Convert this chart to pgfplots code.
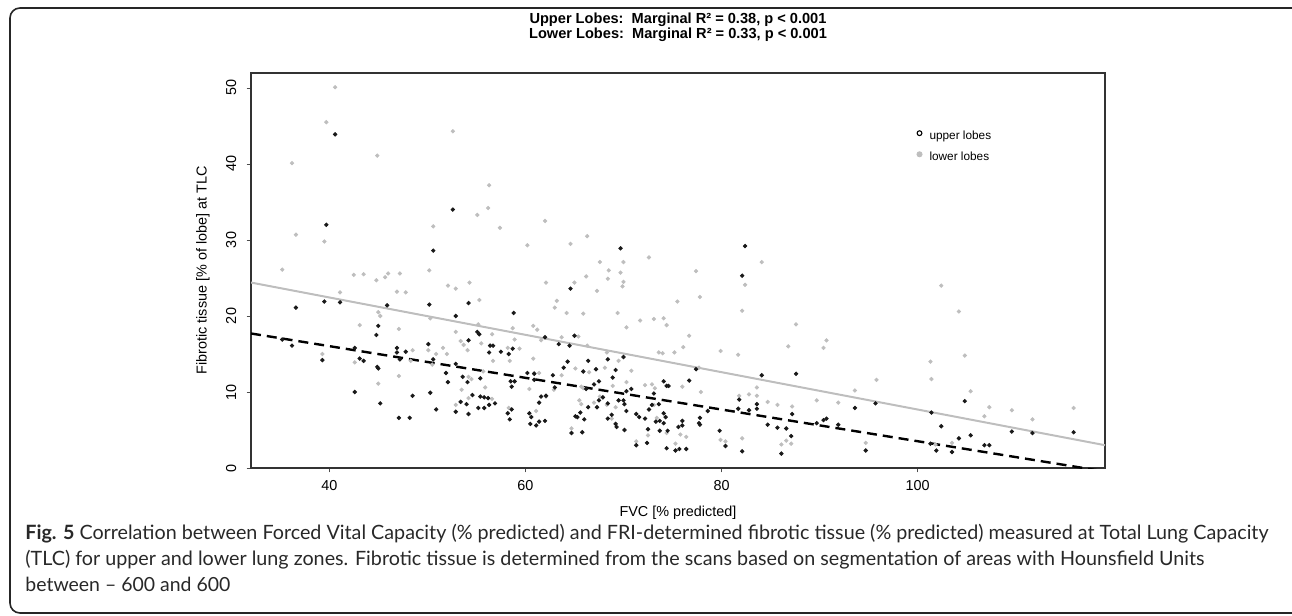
\documentclass[border=0pt]{standalone}
\usepackage{fontspec}
\setmainfont{Liberation Sans}
\newfontfamily\capfont{Lato}
\usepackage{graphicx}
\usepackage{pgfplots}
\pgfplotsset{compat=1.18}
\definecolor{lgray}{RGB}{190,190,190}
\definecolor{captxt}{RGB}{40,40,40}

\pgfplotstableread{
x y
40.6 50.1
39.7 45.5
36.2 40.1
44.9 41.1
52.6 44.3
36.6 30.7
39.5 29.8
50.6 31.8
35.2 26.1
42.5 25.4
43.5 25.5
44.8 24.7
45.7 25.1
46.0 25.6
47.2 25.6
50.2 26.0
52.1 24.0
52.9 23.6
54.3 24.4
41.1 23.1
46.9 23.2
47.8 23.1
45.0 20.5
45.2 20.0
50.3 19.7
43.1 18.8
47.1 18.3
52.9 17.9
53.4 16.7
53.7 16.2
54.1 15.5
39.3 15.0
48.5 15.5
50.1 15.5
50.9 15.0
51.6 15.8
52.0 15.0
42.6 13.9
48.3 14.1
50.5 13.6
47.1 12.1
45.0 11.1
53.5 10.3
52.9 8.3
54.2 9.2
56.3 37.2
56.2 34.2
55.1 33.3
62.0 32.5
57.4 31.6
60.2 29.3
64.6 29.5
66.3 30.5
67.6 27.1
68.5 26.0
68.4 24.9
69.7 25.7
70.0 27.1
70.0 24.5
69.9 23.9
72.6 27.7
62.1 24.4
65.0 24.4
66.2 25.2
67.3 23.3
55.3 22.1
63.2 22.0
63.0 21.1
64.2 20.4
65.9 20.3
69.4 20.4
71.7 19.4
73.1 19.6
74.1 19.7
74.4 18.8
70.3 18.5
75.5 21.9
55.2 18.9
56.6 17.6
58.7 18.4
60.8 18.7
61.2 18.2
58.9 16.9
61.6 16.8
63.7 17.2
65.4 17.3
66.3 16.1
59.4 15.7
58.2 15.8
55.5 16.4
56.7 14.1
58.4 14.1
60.8 14.4
68.3 15.2
69.5 14.1
68.1 13.2
73.6 15.2
74.0 15.1
75.2 15.2
76.1 15.9
70.8 12.8
65.1 13.1
66.5 12.6
63.7 12.2
60.9 12.5
61.4 12.5
55.7 12.7
54.2 12.0
54.5 11.7
55.9 10.6
60.4 10.4
62.9 10.3
65.7 10.7
65.9 10.5
68.9 10.8
70.3 11.3
72.2 10.9
72.9 11.0
73.2 10.5
76.0 10.7
56.6 9.1
62.1 9.4
65.5 8.9
65.7 8.4
67.0 8.6
67.6 9.4
68.3 8.3
69.2 8.0
61.1 7.5
58.3 7.9
64.7 5.2
68.8 6.5
72.5 4.3
73.4 6.6
74.4 4.6
75.3 3.2
75.8 4.4
71.3 3.5
73.1 8.3
77.4 25.9
77.8 22.5
76.7 17.4
77.9 10.0
76.4 4.1
77.7 13.2
79.9 15.4
81.7 14.9
82.4 24.1
82.1 20.7
84.1 27.1
81.8 9.5
82.8 9.7
83.6 9.5
83.6 10.6
84.7 8.7
85.7 8.3
87.2 8.1
86.8 16.0
87.6 18.9
90.4 15.8
90.7 16.8
89.7 8.9
91.9 8.6
93.6 10.2
95.8 11.6
82.1 3.9
79.9 3.7
80.4 3.5
86.1 3.1
86.6 3.6
87.1 3.2
94.7 3.3
102.4 24.0
104.2 20.6
101.3 14.0
101.4 11.7
104.8 14.8
105.4 10.1
107.3 8.0
106.8 6.8
109.6 7.6
111.7 6.4
115.9 7.9
101.8 3.1
103.5 3.3
}\lowertable

\pgfplotstableread{
x y
40.6 43.9
39.7 32.0
52.6 34.0
50.6 28.6
36.6 21.1
39.5 21.9
41.1 21.8
45.9 21.4
50.2 21.5
52.9 20.0
54.2 21.7
45.0 18.7
44.8 17.5
35.2 16.9
36.2 16.1
42.6 15.8
39.3 14.2
43.1 14.4
43.5 14.1
44.9 13.3
45.0 13.1
46.9 15.8
46.9 15.2
47.8 15.3
47.2 14.3
50.1 16.3
50.6 14.3
51.9 12.5
52.9 13.7
54.2 16.8
53.6 12.0
54.1 11.3
42.6 10.0
52.1 11.3
48.5 9.5
50.3 9.9
45.2 8.5
50.9 7.7
53.4 8.7
47.1 6.6
48.2 6.6
52.9 7.4
54.0 8.4
54.2 7.1
69.7 28.9
64.6 23.6
58.8 20.4
65.0 17.4
62.0 17.2
55.1 17.9
55.3 17.6
63.4 16.3
64.5 16.1
56.4 16.1
56.7 16.1
57.5 15.3
56.3 15.2
58.3 15.0
58.7 15.7
68.4 14.3
66.4 14.1
70.0 14.6
64.3 14.0
63.9 13.2
65.9 12.7
67.2 13.0
69.2 12.9
60.2 12.5
60.9 12.4
62.8 12.2
55.4 11.8
58.5 11.4
58.9 11.4
60.9 11.6
68.9 11.9
67.5 11.4
67.0 11.0
58.6 10.7
63.0 10.6
66.2 10.4
70.8 10.4
70.3 10.1
74.1 11.4
74.4 10.8
74.6 10.8
54.6 9.6
55.4 9.4
55.8 9.3
56.2 9.2
56.9 8.5
56.3 8.3
55.2 7.9
55.8 7.9
61.6 9.4
62.1 9.5
61.4 8.6
58.6 7.7
58.2 7.2
58.4 6.4
60.4 7.2
60.6 6.7
60.5 5.8
61.1 5.6
61.4 6.1
62.0 6.2
65.1 6.8
65.3 6.7
65.6 7.3
66.0 6.4
64.7 4.6
65.8 4.7
66.4 8.0
67.3 8.0
67.5 8.9
67.9 9.3
68.4 8.5
68.8 7.0
68.4 6.5
69.2 5.8
69.3 5.4
69.5 8.9
70.0 8.9
70.1 8.4
70.3 7.5
70.1 5.0
71.3 7.1
71.6 6.7
72.2 6.5
72.6 7.7
72.5 5.1
72.4 3.3
73.1 9.8
72.9 8.3
73.3 6.1
73.7 6.2
73.6 8.4
74.1 5.9
74.1 7.2
74.3 6.7
73.7 4.9
74.5 4.9
71.3 3.0
74.4 2.6
75.3 2.3
75.7 2.5
75.6 5.4
76.0 5.6
76.0 6.2
82.4 29.2
82.1 25.3
77.4 13.0
76.7 11.5
84.1 12.2
87.6 12.4
81.8 9.0
81.7 7.8
82.8 7.6
83.6 7.8
83.6 8.4
78.6 7.5
77.8 6.6
77.7 5.9
77.8 5.7
76.4 2.5
79.8 4.9
80.4 2.9
82.1 2.2
84.7 5.7
85.7 5.3
86.6 5.2
87.2 7.1
87.1 4.2
86.1 1.9
89.7 5.9
90.4 6.3
90.7 6.5
91.9 5.7
93.6 7.9
95.7 8.5
94.7 2.3
104.8 8.8
102.4 5.5
101.4 7.3
105.4 4.3
104.2 3.9
109.6 4.8
111.7 4.6
115.9 4.7
101.3 3.2
101.9 2.3
103.5 2.1
106.8 3.0
107.3 3.0
}\uppertable

\begin{document}
\begin{tikzpicture}
\useasboundingbox (0,0) rectangle (646pt,-308pt);
\begin{scope}
\clip (0,0) rectangle (646pt,-308pt);
\draw[line width=0.8pt, black!85, rounded corners=5pt] (5pt,-4pt) rectangle (680pt,-306.5pt);
\end{scope}

% titles
\node[font=\bfseries\fontsize{7.3}{8.5}\selectfont, inner sep=0pt] at (339pt,-10pt) {Upper Lobes:\ \ Marginal R² = 0.38, p < 0.001};
\node[font=\bfseries\fontsize{7.3}{8.5}\selectfont, inner sep=0pt] at (339pt,-17.5pt) {Lower Lobes:\ \ Marginal R² = 0.33, p < 0.001};

\begin{axis}[
  at={(125.5pt,-234pt)}, anchor=south west,
  scale only axis, width=427pt, height=197.5pt,
  xmin=32.02, xmax=119.1, ymin=0, ymax=51.97,
  xtick={40,60,80,100}, ytick={0,10,20,30,40,50},
  tick pos=left, tick align=outside, major tick length=2.2pt,
  every tick/.style={black!70, line width=0.4pt},
  axis line style={black!80, line width=0.75pt},
  /pgf/number format/assume math mode=true,
  tick label style={font=\fontsize{7.2}{8}\selectfont},
  xticklabel style={anchor=north, inner sep=0pt},
  xticklabel shift=4pt,
  yticklabel style={rotate=90, anchor=south, inner sep=0pt},
  yticklabel shift=5pt,
  xlabel={FVC [\% predicted]},
  ylabel={Fibrotic tissue [\% of lobe] at TLC},
  label style={font=\fontsize{7.2}{8}\selectfont},
  xlabel style={at={(axis description cs:0.5,-0.1139)}, anchor=center, inner sep=0pt},
  ylabel style={at={(axis description cs:-0.0562,0.5)}, anchor=center, inner sep=0pt},
  legend style={draw=none, fill=none, at={(rel axis cs:0.7793,0.855)}, anchor=north west,
    font=\fontsize{5.9}{6.5}\selectfont, inner sep=0pt, row sep=4.8pt,
    nodes={inner sep=0pt, text height=4.5pt, text depth=1.2pt},
    /tikz/every odd column/.append style={column sep=3.7pt}},
  legend cell align=left,
  legend image code/.code={\draw[#1] plot coordinates {(0pt,1.6pt)};},
  clip=true,
]
\addlegendimage{only marks, mark=o, mark size=1.2pt, black, line width=0.55pt}
\addlegendentry{upper lobes}
\addlegendimage{only marks, mark=*, mark size=1.3pt, lgray, fill=lgray}
\addlegendentry{lower lobes}

\addplot[forget plot, only marks, mark=*, mark size=0.85pt, draw=lgray, fill=lgray] table[x=x,y=y] {\lowertable};
\addplot[forget plot, only marks, mark=*, mark size=0.88pt, draw=black!90, fill=black!90] table[x=x,y=y] {\uppertable};
\addplot[forget plot, lgray, line width=1pt] coordinates {(32.02,24.4) (119.1,3.0)};
\addplot[forget plot, black, line width=1.2pt, dash pattern=on 5pt off 3pt] coordinates {(32.02,17.7) (119.1,-0.46)};
\end{axis}

% caption
\node[anchor=base west, inner sep=0pt, text=captxt] at (12.5pt,-269.5pt) {\resizebox{621.5pt}{!}{\capfont\fontsize{9}{11}\selectfont\textbf{Fig. 5} Correlation between Forced Vital Capacity (\% predicted) and FRI-determined fibrotic tissue (\% predicted) measured at Total Lung Capacity}};
\node[anchor=base west, inner sep=0pt, text=captxt] at (12.5pt,-282.5pt) {\resizebox{589.5pt}{!}{\capfont\fontsize{9}{11}\selectfont (TLC) for upper and lower lung zones. Fibrotic tissue is determined from the scans based on segmentation of areas with Hounsfield Units}};
\node[anchor=base west, inner sep=0pt, text=captxt] at (12.5pt,-295.5pt) {\resizebox{102.5pt}{!}{\capfont\fontsize{9}{11}\selectfont between – 600 and 600}};
\end{tikzpicture}
\end{document}
